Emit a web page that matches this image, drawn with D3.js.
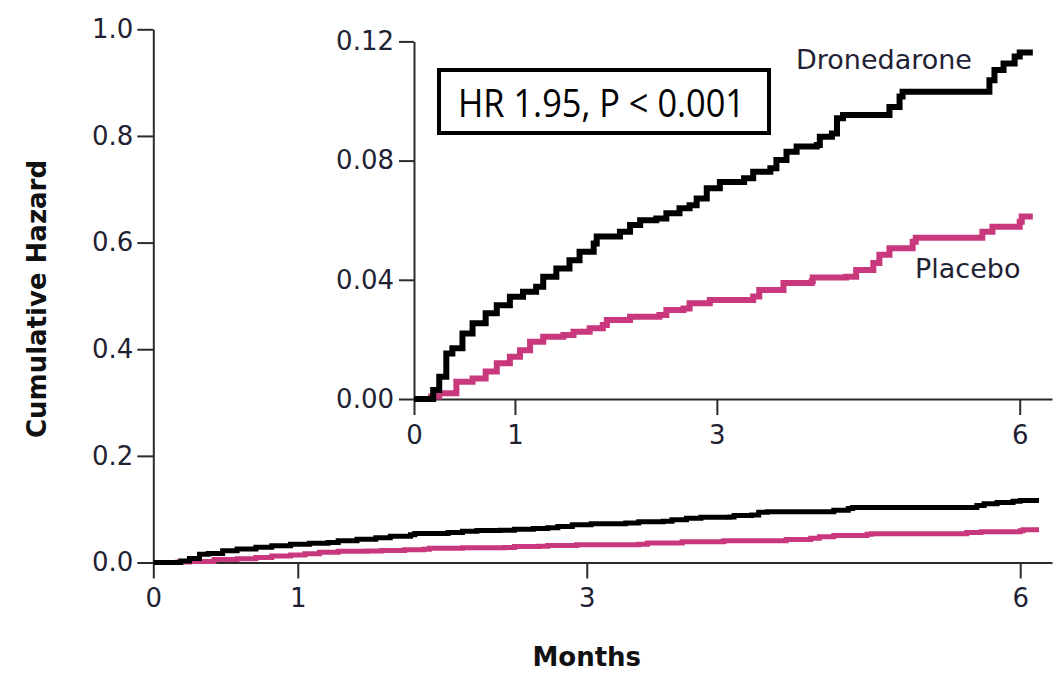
<!DOCTYPE html>
<html>
<head>
<meta charset="utf-8">
<script src="https://cdn.jsdelivr.net/npm/d3@7"></script>
<style>
  html, body { margin: 0; padding: 0; background: #fff; }
  svg { display: block; }
  .tick text { font-family: "DejaVu Sans", sans-serif; fill: #1f2233; }
</style>
</head>
<body>
<svg id="chart" width="1057" height="678"></svg>
<script>
// Cumulative hazard step curves: [months, cumulative hazard]
const dronedarone = [
  [0, 0], [0.12, 0], [0.19, 0.003], [0.25, 0.0075], [0.32, 0.0153], [0.38, 0.017],
  [0.48, 0.022], [0.58, 0.0254], [0.71, 0.0288], [0.82, 0.0315], [0.95, 0.0343],
  [1.08, 0.036], [1.21, 0.0377], [1.28, 0.041], [1.41, 0.0438], [1.54, 0.0466],
  [1.64, 0.0494], [1.78, 0.0522], [1.81, 0.0545], [2.04, 0.0561], [2.14, 0.0584],
  [2.24, 0.06], [2.40, 0.0606], [2.50, 0.0623], [2.63, 0.064], [2.73, 0.065],
  [2.80, 0.0673], [2.90, 0.0707], [3.03, 0.0728], [3.27, 0.0741], [3.36, 0.0763],
  [3.53, 0.0774], [3.59, 0.0802], [3.69, 0.083], [3.79, 0.0847], [3.99, 0.0852],
  [4.02, 0.088], [4.14, 0.0891], [4.19, 0.0942], [4.25, 0.0953], [4.71, 0.098],
  [4.81, 0.1015], [4.84, 0.1031], [5.70, 0.107], [5.75, 0.1104], [5.84, 0.1126],
  [5.95, 0.1149], [6.00, 0.1163], [6.13, 0.1163]
];
const placebo = [
  [0, 0], [0.16, 0], [0.17, 0.0008], [0.25, 0.0019], [0.42, 0.0058], [0.58, 0.0069],
  [0.71, 0.0092], [0.82, 0.012], [0.95, 0.0142], [1.05, 0.0164], [1.15, 0.0192],
  [1.28, 0.0209], [1.48, 0.0215], [1.58, 0.0226], [1.74, 0.0237], [1.87, 0.0248],
  [1.91, 0.0265], [2.14, 0.0276], [2.43, 0.0282], [2.50, 0.0299], [2.67, 0.0304],
  [2.73, 0.0321], [2.93, 0.0332], [3.36, 0.0344], [3.42, 0.0366], [3.66, 0.0389],
  [3.94, 0.0395], [3.95, 0.0408], [4.28, 0.041], [4.38, 0.0433], [4.55, 0.0456],
  [4.61, 0.0484], [4.71, 0.0506], [4.94, 0.0528], [4.97, 0.0541], [5.63, 0.0561],
  [5.73, 0.0578], [6.00, 0.0595], [6.02, 0.0612], [6.13, 0.0612]
];

const monthTicks = [0, 1, 3, 6];
const mainHazardTicks = [0, 0.2, 0.4, 0.6, 0.8, 1.0];
const insetHazardTicks = [0, 0.04, 0.08, 0.12];
const seriesNames = ["Dronedarone", "Placebo"];
const annotation = "HR 1.95, P < 0.001";

const BLACK = "#000000";
const PINK = "#c9377d";
const AXIS = "#2b2b2b";

const svg = d3.select("#chart");

function styleAxis(g) {
  g.select(".domain").attr("stroke", AXIS).attr("stroke-width", 2);
  g.selectAll(".tick line").attr("stroke", AXIS).attr("stroke-width", 2);
  g.selectAll(".tick text").attr("font-size", 26);
}

// ---------- main panel ----------
const x = d3.scaleLinear().domain([0, 6.22]).range([153.3, 1052]);
const y = d3.scaleLinear().domain([0, 1]).range([562.5, 29.3]);

svg.append("g")
  .attr("transform", `translate(0,${y(0)})`)
  .call(d3.axisBottom(x).tickValues(monthTicks).tickFormat(d3.format("d"))
    .tickSize(16).tickSizeOuter(0).tickPadding(10))
  .call(styleAxis);

svg.append("g")
  .attr("transform", `translate(${x(0)},0)`)
  .call(d3.axisLeft(y).tickValues(mainHazardTicks).tickFormat(d3.format(".1f"))
    .tickSize(16).tickSizeOuter(0).tickPadding(4))
  .call(styleAxis);

const mainLine = d3.line().x(d => x(d[0])).y(d => y(d[1])).curve(d3.curveStepAfter);

svg.append("path").datum(placebo)
  .attr("d", mainLine).attr("fill", "none").attr("stroke", PINK).attr("stroke-width", 5);
svg.append("path").datum(dronedarone)
  .attr("d", mainLine).attr("fill", "none").attr("stroke", BLACK).attr("stroke-width", 5);

svg.append("text")
  .attr("transform", `translate(46,299) rotate(-90)`)
  .attr("text-anchor", "middle")
  .attr("font-family", "DejaVu Sans, sans-serif")
  .attr("font-weight", "bold")
  .attr("font-size", 26)
  .attr("fill", "#111")
  .text("Cumulative Hazard");

svg.append("text")
  .attr("x", x(3)).attr("y", 666)
  .attr("text-anchor", "middle")
  .attr("font-family", "DejaVu Sans, sans-serif")
  .attr("font-weight", "bold")
  .attr("font-size", 26)
  .attr("fill", "#111")
  .text("Months");

// ---------- inset panel ----------
const xi = d3.scaleLinear().domain([0, 6.32]).range([414, 1052]);
const yi = d3.scaleLinear().domain([0, 0.12]).range([399, 41.4]);

svg.append("g")
  .attr("transform", `translate(0,${yi(0)})`)
  .call(d3.axisBottom(xi).tickValues(monthTicks).tickFormat(d3.format("d"))
    .tickSize(16).tickSizeOuter(0).tickPadding(11))
  .call(styleAxis);

svg.append("g")
  .attr("transform", `translate(${xi(0)},0)`)
  .call(d3.axisLeft(yi).tickValues(insetHazardTicks).tickFormat(d3.format(".2f"))
    .tickSize(15).tickSizeOuter(0).tickPadding(5))
  .call(styleAxis);

const insetLine = d3.line().x(d => xi(d[0])).y(d => yi(d[1])).curve(d3.curveStepAfter);

svg.append("path").datum(placebo)
  .attr("d", insetLine).attr("fill", "none").attr("stroke", PINK).attr("stroke-width", 6);
svg.append("path").datum(dronedarone)
  .attr("d", insetLine).attr("fill", "none").attr("stroke", BLACK).attr("stroke-width", 6);

svg.append("text")
  .attr("x", 796).attr("y", 69)
  .attr("font-family", "DejaVu Sans, sans-serif")
  .attr("font-size", 27)
  .attr("fill", "#1f2233")
  .text(seriesNames[0]);

svg.append("text")
  .attr("x", 915).attr("y", 278)
  .attr("font-family", "DejaVu Sans, sans-serif")
  .attr("font-size", 27)
  .attr("fill", "#1f2233")
  .text(seriesNames[1]);

// hazard ratio box
svg.append("rect")
  .attr("x", 439).attr("y", 70).attr("width", 330).attr("height", 63)
  .attr("fill", "#fff").attr("stroke", "#000").attr("stroke-width", 4);

svg.append("text")
  .attr("x", 458).attr("y", 117)
  .attr("font-family", "Open Sans, sans-serif")
  .attr("font-size", 38)
  .attr("fill", "#000")
  .attr("textLength", 287)
  .attr("lengthAdjust", "spacingAndGlyphs")
  .text(annotation);
</script>
</body>
</html>
